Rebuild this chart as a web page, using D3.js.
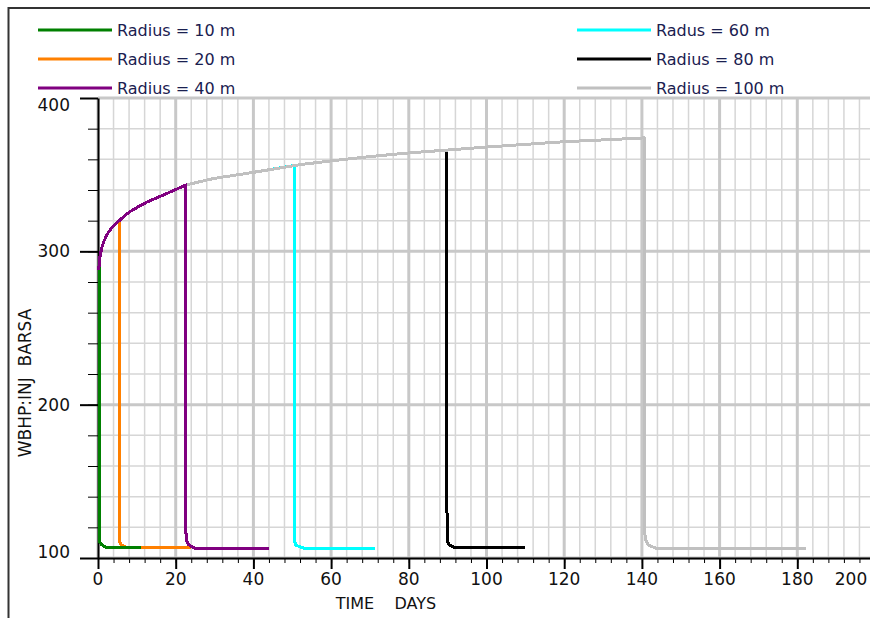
<!DOCTYPE html>
<html>
<head>
<meta charset="utf-8">
<script src="https://cdn.jsdelivr.net/npm/d3@7"></script>
<style>
  body { margin: 0; background: #fff; }
  svg { display: block; }
  text { font-family: "DejaVu Sans", sans-serif; }
</style>
</head>
<body>
<svg width="870" height="618"></svg>
<script>
var riseDays = [0, 0.26, 0.51, 0.94, 1.54, 2.4, 3.5, 4.6, 5.66, 6.95, 8.24, 10.4, 12.5, 16.8, 22.65, 30, 40, 51.9, 60, 70, 80, 89.7, 100, 120, 137, 140.6];
var risePres = [288, 290, 296.5, 302, 306.7, 311.3, 315.4, 318.3, 320.4, 323.5, 325.9, 329.1, 332, 336.7, 343.3, 347.6, 351.5, 356.5, 359, 361.8, 364.2, 366, 368, 371.5, 373.5, 374];

// fall-off after shut in, per radius: [day, pressure]
var tail10  = [[0.5, 296], [0.5, 110], [1.0, 108.5], [2.2, 106.7], [11, 106.7]];
var tail20  = [[5.66, 320.4], [5.66, 110], [6.1, 108.5], [7.6, 106.7], [24, 106.7]];
var tail40  = [[22.65, 343.3], [22.65, 116], [22.9, 110.6], [23.4, 108.5], [24.9, 106.3], [44, 106.3]];
var tail60  = [[50.5, 356], [50.5, 114], [50.8, 108.5], [51.9, 107.4], [53.2, 106.3], [71.4, 106.3]];
var tail80  = [[89.7, 366], [89.7, 130], [89.9, 129], [89.9, 110.6], [90.5, 108.5], [91.8, 106.7], [110, 106.7]];
var tail100 = [[140.6, 374], [140.6, 118], [141, 111.7], [141.6, 108.5], [143.7, 106.3], [182.3, 106.3]];

var seriesNames  = ["Radius = 10 m", "Radius = 20 m", "Radius = 40 m", "Radus = 60 m", "Radius = 80 m", "Radius = 100 m"];
var seriesColors = ["#008000", "#ff8000", "#800080", "#00ffff", "#000000", "#c0c0c0"];
var seriesTails  = [tail10, tail20, tail40, tail60, tail80, tail100];
var drawOrder    = [3, 4, 5, 1, 0, 2];

var xMajor = d3.range(0, 201, 20);
var xMinor = d3.range(0, 201, 4);
var yMajor = [100, 200, 300, 400];
var yMinor = d3.range(100, 401, 20);

var svg = d3.select("svg"),
    pLeft = 98, pRight = 875, pTop = 98, pBottom = 558;

var x = d3.scaleLinear().domain([0, 200]).range([pLeft, pRight]);
var y = d3.scaleLinear().domain([100, 400]).range([pBottom, pTop]);

// frame
svg.append("path")
    .attr("d", "M8.5,618V8H870")
    .attr("fill", "none")
    .attr("stroke", "#333")
    .attr("stroke-width", 2);

// grid
var grid = svg.append("g");
grid.selectAll(".vmin").data(xMinor).enter().append("line")
    .attr("x1", function(d) { return x(d); }).attr("x2", function(d) { return x(d); })
    .attr("y1", pTop).attr("y2", pBottom)
    .attr("stroke", "#d6d6d6").attr("stroke-width", 1.5);
grid.selectAll(".hmin").data(yMinor).enter().append("line")
    .attr("x1", pLeft).attr("x2", pRight)
    .attr("y1", function(d) { return y(d); }).attr("y2", function(d) { return y(d); })
    .attr("stroke", "#d6d6d6").attr("stroke-width", 1.5);
grid.selectAll(".vmaj").data(xMajor).enter().append("line")
    .attr("x1", function(d) { return x(d); }).attr("x2", function(d) { return x(d); })
    .attr("y1", pTop).attr("y2", pBottom)
    .attr("stroke", "#c8c8c8").attr("stroke-width", 3);
grid.selectAll(".hmaj").data(yMajor).enter().append("line")
    .attr("x1", pLeft).attr("x2", pRight)
    .attr("y1", function(d) { return y(d); }).attr("y2", function(d) { return y(d); })
    .attr("stroke", "#c8c8c8").attr("stroke-width", 3);

// axes
svg.append("g")
    .attr("transform", "translate(0," + pBottom + ")")
    .call(d3.axisBottom(x).tickValues(xMinor).tickSize(5).tickSizeOuter(0).tickFormat(""))
    .call(function(g) { g.select(".domain").remove(); });
svg.append("g")
    .attr("transform", "translate(0," + pBottom + ")")
    .call(d3.axisBottom(x).tickValues(xMajor).tickSize(11).tickSizeOuter(0).tickFormat(""))
    .call(function(g) {
        g.select(".domain").attr("stroke-width", 2);
        g.selectAll(".tick line").attr("stroke-width", 2);
    });

svg.append("g")
    .attr("transform", "translate(" + pLeft + ",0)")
    .call(d3.axisLeft(y).tickValues(yMinor).tickSize(10).tickSizeOuter(0).tickFormat(""))
    .call(function(g) { g.select(".domain").remove(); });
svg.append("g")
    .attr("transform", "translate(" + pLeft + ",0)")
    .call(d3.axisLeft(y).tickValues(yMajor).tickSize(18).tickSizeOuter(0).tickFormat(""))
    .call(function(g) {
        g.select(".domain").attr("stroke-width", 2);
        g.selectAll(".tick line").attr("stroke-width", 2);
    });

// series
var line = d3.line()
    .x(function(d) { return x(d[0]); })
    .y(function(d) { return y(d[1]); });

drawOrder.forEach(function(i) {
    var tail = seriesTails[i];
    var pts = [];
    riseDays.forEach(function(t, j) { if (t < tail[0][0]) pts.push([t, risePres[j]]); });
    pts = pts.concat(tail);
    svg.append("path")
        .datum(pts)
        .attr("fill", "none")
        .attr("stroke", seriesColors[i])
        .attr("stroke-width", 3)
        .attr("stroke-linejoin", "round")
        .attr("shape-rendering", "crispEdges")
        .attr("d", line);
});

// tick labels, kept inside the frame like the original
svg.append("g").selectAll("text").data(xMajor).enter().append("text")
    .attr("x", function(d) { return Math.min(x(d), 851); })
    .attr("y", 579)
    .attr("dy", "0.35em")
    .attr("text-anchor", "middle")
    .attr("font-size", 17)
    .attr("fill", "#111")
    .text(function(d) { return d; });

svg.append("g").selectAll("text").data(yMajor).enter().append("text")
    .attr("x", 70)
    .attr("y", function(d) { return Math.max(pTop + 7, Math.min(pBottom - 6, y(d))); })
    .attr("dy", "0.35em")
    .attr("text-anchor", "end")
    .attr("font-size", 17)
    .attr("fill", "#111")
    .text(function(d) { return d; });

svg.append("text")
    .attr("x", 386)
    .attr("y", 603)
    .attr("dy", "0.35em")
    .attr("text-anchor", "middle")
    .attr("font-size", 16)
    .attr("fill", "#111")
    .style("white-space", "pre")
    .text("TIME    DAYS");

svg.append("text")
    .attr("transform", "translate(25,383) rotate(-90)")
    .attr("dy", "0.35em")
    .attr("text-anchor", "middle")
    .attr("font-size", 17)
    .attr("fill", "#111")
    .style("white-space", "pre")
    .text("WBHP:INJ  BARSA");

// legend
var legend = svg.append("g")
    .selectAll("g")
    .data(seriesNames)
    .enter().append("g")
    .attr("transform", function(d, i) {
        return "translate(" + (i < 3 ? 38 : 577) + "," + (30 + (i % 3) * 29) + ")";
    });

legend.append("line")
    .attr("x1", 0).attr("x2", 74)
    .attr("stroke", function(d, i) { return seriesColors[i]; })
    .attr("stroke-width", 3);

legend.append("text")
    .attr("x", 79)
    .attr("dy", "0.35em")
    .attr("font-size", 16)
    .attr("fill", "#1a2050")
    .text(function(d) { return d; });
</script>
</body>
</html>
